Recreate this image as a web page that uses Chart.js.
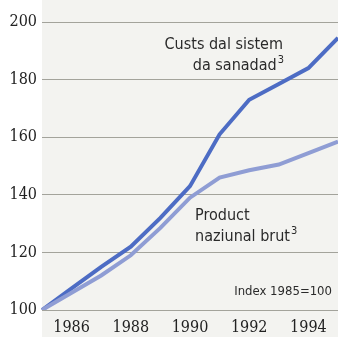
<!DOCTYPE html>
<html>
<head>
<meta charset="utf-8">
<script src="https://cdn.jsdelivr.net/npm/chart.js@4/dist/chart.umd.min.js"></script>
<style>
  html, body { margin: 0; padding: 0; background: #ffffff; }
  #wrap { width: 338px; height: 337px; }
</style>
</head>
<body>
<div id="wrap"><canvas id="myChart" width="338" height="337"></canvas></div>
<script>
// onns
var years = ['1985', '1986', '1987', '1988', '1989', '1990', '1991', '1992', '1993', '1994', '1995'];
// custs dal sistem da sanadad (index 1985=100)
var custsSanadad = [100, 107.5, 115, 122, 132, 143, 161, 173, 178.5, 184, 194.5];
// product naziunal brut (index 1985=100)
var productBrut = [100, 106, 112, 119, 128.5, 139, 146, 148.5, 150.5, 154.5, 158.5];
// scala verticala
var yTicks = [100, 120, 140, 160, 180, 200];
var xTickYears = ['1986', '1988', '1990', '1992', '1994'];

var tickFont = { family: '"DejaVu Serif Condensed", "DejaVu Serif", serif', size: 16 };
var noteFont = '"Liberation Sans Narrow", "DejaVu Sans Condensed", "Liberation Sans", sans-serif';

// fund grisch da la surfatscha dal diagram
var plotBackground = {
  id: 'plotBackground',
  beforeDraw: function(chart) {
    var a = chart.chartArea;
    var ctx = chart.ctx;
    ctx.save();
    ctx.fillStyle = '#f3f3f0';
    ctx.fillRect(a.left, 0, chart.width - a.left, chart.height);
    ctx.restore();
  }
};

// text cun exponent
function textSup(ctx, text, sup, xRight, y, size) {
  ctx.font = size + 'px ' + noteFont;
  var supSize = Math.round(size * 0.7);
  var w = ctx.measureText(text).width;
  ctx.font = supSize + 'px ' + noteFont;
  var ws = ctx.measureText(sup).width;
  ctx.textAlign = 'left';
  ctx.font = size + 'px ' + noteFont;
  ctx.fillText(text, xRight - w - ws - 1, y);
  ctx.font = supSize + 'px ' + noteFont;
  ctx.fillText(sup, xRight - ws, y - size * 0.38);
}

var notes = {
  id: 'notes',
  afterDatasetsDraw: function(chart) {
    var ctx = chart.ctx;
    ctx.save();
    ctx.fillStyle = '#2a2a2a';
    ctx.textBaseline = 'middle';

    ctx.font = '16px ' + noteFont;
    ctx.textAlign = 'right';
    ctx.fillText('Custs dal sistem', 283, 45);
    textSup(ctx, 'da sanadad', '3', 284, 66, 16);

    ctx.textAlign = 'left';
    ctx.font = '16px ' + noteFont;
    ctx.fillText('Product', 195, 216);
    ctx.fillText('naziunal brut', 195, 237);
    var w = ctx.measureText('naziunal brut').width;
    ctx.font = '11px ' + noteFont;
    ctx.fillText('3', 195 + w + 1, 231);

    ctx.font = '13px ' + noteFont;
    ctx.textAlign = 'right';
    ctx.fillText('Index 1985=100', 332, 292);
    ctx.restore();
  }
};

var ctx = document.getElementById('myChart').getContext('2d');
var myChart = new Chart(ctx, {
  type: 'line',
  data: {
    labels: years,
    datasets: [{
      label: 'Product naziunal brut',
      data: productBrut,
      borderColor: '#8f9dd4',
      borderWidth: 4,
      pointRadius: 0,
      tension: 0
    }, {
      label: 'Custs dal sistem da sanadad',
      data: custsSanadad,
      borderColor: '#4d6cc4',
      borderWidth: 4,
      pointRadius: 0,
      tension: 0
    }]
  },
  options: {
    responsive: false,
    animation: false,
    layout: { autoPadding: false, padding: { top: 22, right: 0, left: 0, bottom: 0 } },
    plugins: {
      legend: { display: false },
      tooltip: { enabled: false }
    },
    scales: {
      x: {
        offset: false,
        grid: { display: false, drawTicks: false },
        border: { display: false },
        ticks: {
          autoSkip: false,
          maxRotation: 0,
          padding: 8,
          color: '#222222',
          font: tickFont,
          callback: function(value, index) {
            var y = years[index];
            return xTickYears.indexOf(y) >= 0 ? y : '';
          }
        },
        afterFit: function(scale) {
          scale.height = 27;
          scale.paddingLeft = 0;
          scale.paddingRight = 0;
        }
      },
      y: {
        min: 100,
        max: 200,
        grid: { color: '#a3a39b', lineWidth: 1, drawTicks: false },
        border: { display: false },
        afterBuildTicks: function(scale) {
          scale.ticks = yTicks.map(function(v) { return { value: v }; });
        },
        ticks: {
          padding: 5,
          color: '#222222',
          font: tickFont
        },
        afterFit: function(scale) { scale.width = 42; }
      }
    }
  },
  plugins: [plotBackground, notes]
});
</script>
</body>
</html>
